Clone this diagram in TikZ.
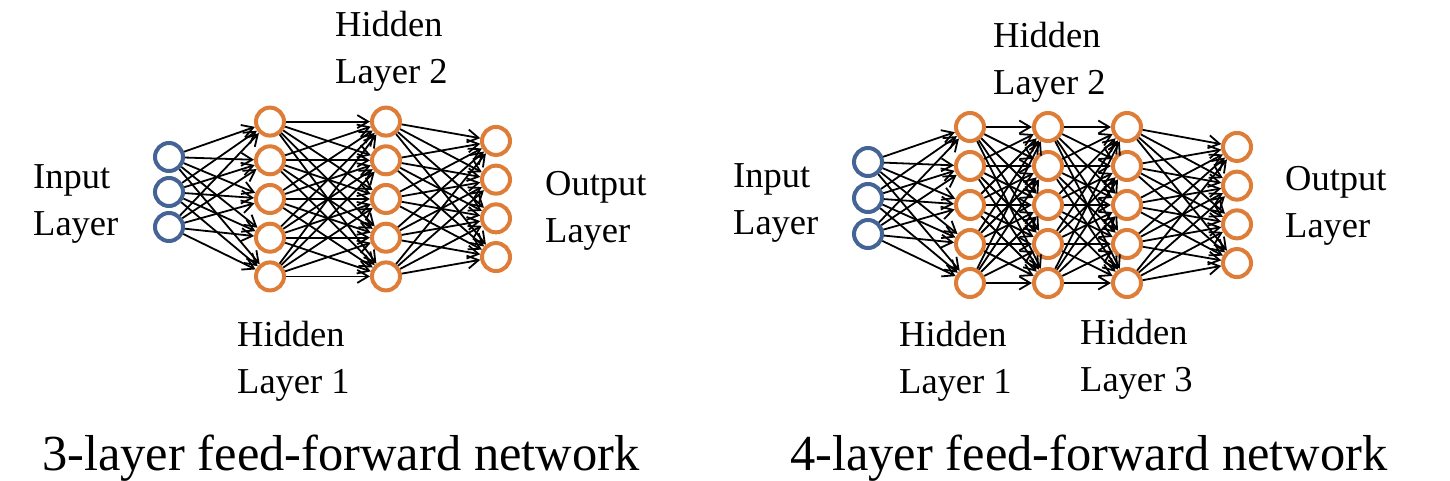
\documentclass[tikz,border=0pt]{standalone}
\usepackage{fontspec}
\setmainfont{Liberation Serif}
\usepackage{tikz}
\usetikzlibrary{arrows.meta, positioning}
\definecolor{nnblue}{RGB}{68,100,150}
\definecolor{nnorange}{RGB}{222,125,55}

\begin{document}
\begin{tikzpicture}[x=1pt, y=-1pt,
    inp/.style = {draw=nnblue, circle, line width=4pt, minimum size=28pt, inner sep=0pt},
    hid/.style = {draw=nnorange, circle, line width=4pt, minimum size=28pt, inner sep=0pt},
    conn/.style = {line width=1.8pt, -{Straight Barb[length=11pt,width=13pt]}},
    lbl/.style = {anchor=base west, align=left, inner sep=0pt, font=\fontsize{36.5pt}{47pt}\selectfont},
    captext/.style = {anchor=base west, inner sep=0pt, font=\fontsize{50.5pt}{60pt}\selectfont}]
      \useasboundingbox (0,0) rectangle (1450,480);

      \foreach \k in {1,2,3}   \node[inp] (Li\k)  at (169, {192+(\k-2)*35})   {};
      \foreach \k in {1,...,5} \node[hid] (LhA\k) at (270, {199+(\k-3)*38.7}) {};
      \foreach \k in {1,...,5} \node[hid] (LhB\k) at (386, {199+(\k-3)*38.7}) {};
      \foreach \k in {1,...,4} \node[hid] (Lo\k)  at (496, {199+(\k-2.5)*38.7}) {};

      \foreach \k in {1,2,3}   \node[inp] (Ri\k)  at (868,  {198+(\k-2)*36})   {};
      \foreach \k in {1,...,5} \node[hid] (RhA\k) at (970,  {205+(\k-3)*39})   {};
      \foreach \k in {1,...,5} \node[hid] (RhB\k) at (1048, {205+(\k-3)*39})   {};
      \foreach \k in {1,...,5} \node[hid] (RhC\k) at (1127, {205+(\k-3)*39})   {};
      \foreach \k in {1,...,4} \node[hid] (Ro\k)  at (1237, {205+(\k-2.5)*38.7}) {};

      \foreach \s in {1,2,3} \foreach \t in {1,...,5} {
        \draw[conn] (Li\s) -- (LhA\t);
        \draw[conn] (Ri\s) -- (RhA\t);
      }
      \foreach \s in {1,...,5} \foreach \t in {1,...,5} {
        \draw[conn] (LhA\s) -- (LhB\t);
        \draw[conn] (RhA\s) -- (RhB\t);
        \draw[conn] (RhB\s) -- (RhC\t);
      }
      \foreach \s in {1,...,5} \foreach \t in {1,...,4} {
        \draw[conn] (LhB\s) -- (Lo\t);
        \draw[conn] (RhC\s) -- (Ro\t);
      }

      \node[lbl] (linlbl)  at (33, 235)  {Input\\Layer};
      \node[lbl] (lh2lbl)  at (335, 83)  {Hidden\\Layer 2};
      \node[lbl] (loutlbl) at (545, 242) {Output\\Layer};
      \node[lbl] (lh1lbl)  at (237, 393) {Hidden\\Layer 1};
      \node[captext] (lcap) at (42, 470) {3-layer feed-forward network};

      \node[lbl] (rinlbl)  at (733, 234)  {Input\\Layer};
      \node[lbl] (rh2lbl)  at (993, 94)   {Hidden\\Layer 2};
      \node[lbl] (routlbl) at (1285, 237) {Output\\Layer};
      \node[lbl] (rh1lbl)  at (899, 393)  {Hidden\\Layer 1};
      \node[lbl] (rh3lbl)  at (1080, 391) {Hidden\\Layer 3};
      \node[captext] (rcap) at (790, 470) {4-layer feed-forward network};
\end{tikzpicture}
\end{document}
